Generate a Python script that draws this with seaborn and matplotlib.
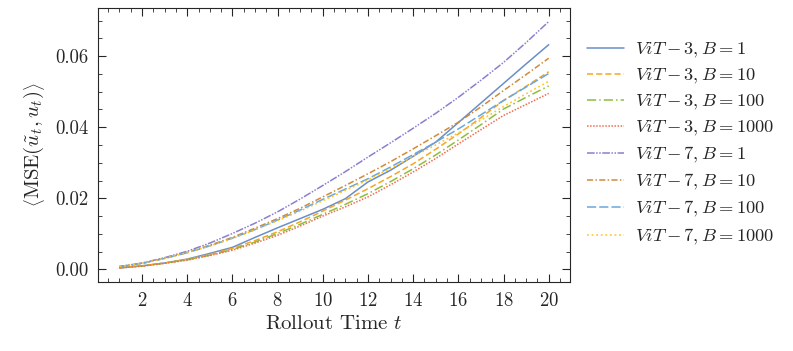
import numpy as np
import pandas as pd
import matplotlib
matplotlib.use("Agg")
import matplotlib.pyplot as plt
from matplotlib.ticker import MultipleLocator
import seaborn as sns

sns.set_style("ticks")
plt.rcParams['font.family'] = 'serif'
plt.rcParams['font.serif'] = ['cmr10', 'DejaVu Serif']
plt.rcParams['mathtext.fontset'] = 'cm'
plt.rcParams['axes.formatter.use_mathtext'] = True

t = list(range(1, 21))

vit3_b1 = [0.0004, 0.0010, 0.0018, 0.0029, 0.0045, 0.0062, 0.0090, 0.0117, 0.0143, 0.0169,
           0.0199, 0.0246, 0.0279, 0.0318, 0.0358, 0.0413, 0.0468, 0.0523, 0.0578, 0.0632]
vit3_b10 = [0.0005, 0.0010, 0.0018, 0.0028, 0.0042, 0.0059, 0.0081, 0.0106, 0.0134, 0.0164,
            0.0195, 0.0227, 0.0261, 0.0297, 0.0338, 0.0381, 0.0427, 0.0475, 0.0515, 0.0556]
vit3_b100 = [0.0005, 0.0010, 0.0018, 0.0027, 0.0040, 0.0056, 0.0077, 0.0101, 0.0127, 0.0155,
             0.0183, 0.0213, 0.0247, 0.0283, 0.0322, 0.0364, 0.0407, 0.0451, 0.0484, 0.0516]
vit3_b1000 = [0.0004, 0.0009, 0.0017, 0.0026, 0.0039, 0.0054, 0.0074, 0.0096, 0.0122, 0.0150,
              0.0176, 0.0204, 0.0238, 0.0274, 0.0312, 0.0353, 0.0393, 0.0433, 0.0464, 0.0495]
vit7_b1 = [0.0008, 0.0018, 0.0033, 0.0051, 0.0074, 0.0101, 0.0130, 0.0162, 0.0198, 0.0236,
           0.0275, 0.0316, 0.0356, 0.0397, 0.0439, 0.0484, 0.0532, 0.0582, 0.0638, 0.0697]
vit7_b10 = [0.0008, 0.0017, 0.0031, 0.0048, 0.0068, 0.0090, 0.0116, 0.0143, 0.0172, 0.0204,
            0.0236, 0.0269, 0.0303, 0.0339, 0.0376, 0.0414, 0.0457, 0.0503, 0.0548, 0.0594]
vit7_b100 = [0.0008, 0.0017, 0.0031, 0.0047, 0.0066, 0.0088, 0.0112, 0.0139, 0.0167, 0.0197,
             0.0226, 0.0255, 0.0288, 0.0323, 0.0358, 0.0395, 0.0435, 0.0475, 0.0513, 0.0551]
vit7_b1000 = [0.0008, 0.0017, 0.0031, 0.0047, 0.0066, 0.0087, 0.0111, 0.0137, 0.0164, 0.0193,
              0.0222, 0.0252, 0.0284, 0.0318, 0.0350, 0.0384, 0.0420, 0.0458, 0.0494, 0.0529]

labels = [r'$ViT-3, B=1$', r'$ViT-3, B=10$', r'$ViT-3, B=100$', r'$ViT-3, B=1000$',
          r'$ViT-7, B=1$', r'$ViT-7, B=10$', r'$ViT-7, B=100$', r'$ViT-7, B=1000$']
series = [vit3_b1, vit3_b10, vit3_b100, vit3_b1000, vit7_b1, vit7_b10, vit7_b100, vit7_b1000]

colors = ['#6A8EC8', '#F5A623', '#8CBF3F', '#F46A4E', '#8B7FD0', '#D08A3C', '#6AA8DC', '#FFC425']
dashes = ['', (4, 2), (6, 2, 1, 2), (1, 1), (5, 1, 1, 1, 1, 1), (4, 1.5, 1, 1.5), (6, 2), (1.2, 1.8)]

df = pd.DataFrame({lab: vals for lab, vals in zip(labels, series)})
df['t'] = t
long = df.melt(id_vars='t', var_name='model', value_name='mse')

fig = plt.figure(figsize=(7.93, 3.51), dpi=100)
ax = fig.add_axes([0.1236, 0.197, 0.5954, 0.78])
sns.lineplot(data=long, x='t', y='mse', hue='model', style='model',
             palette=colors, dashes=dashes, hue_order=labels, style_order=labels,
             linewidth=1.1, ax=ax)

ax.set_xlabel(r'Rollout Time $t$', fontsize=15, labelpad=4)
ax.set_ylabel(r'$\left\langle \mathrm{MSE}(\tilde{u}_t, u_t) \right\rangle$', fontsize=15, labelpad=6)
ax.xaxis.set_major_locator(MultipleLocator(2))
ax.xaxis.set_minor_locator(MultipleLocator(0.5))
ax.yaxis.set_major_locator(MultipleLocator(0.02))
ax.yaxis.set_minor_locator(MultipleLocator(0.005))
ax.set_yticks([0.0, 0.02, 0.04, 0.06])
ax.set_yticklabels(['0.00', '0.02', '0.04', '0.06'])
ax.tick_params(which='both', direction='in', top=True, right=True, labelsize=13.5, pad=7)
ax.tick_params(which='major', length=6, width=0.8)
ax.tick_params(which='minor', length=3, width=0.6)
ax.set_ylim(-0.0035, 0.0735)

ax.legend(loc='upper left', bbox_to_anchor=(1.0, 0.94), frameon=False, fontsize=13.3,
          handlelength=2.0, handletextpad=0.6, labelspacing=0.38)

fig.savefig('out.png', dpi=100)
